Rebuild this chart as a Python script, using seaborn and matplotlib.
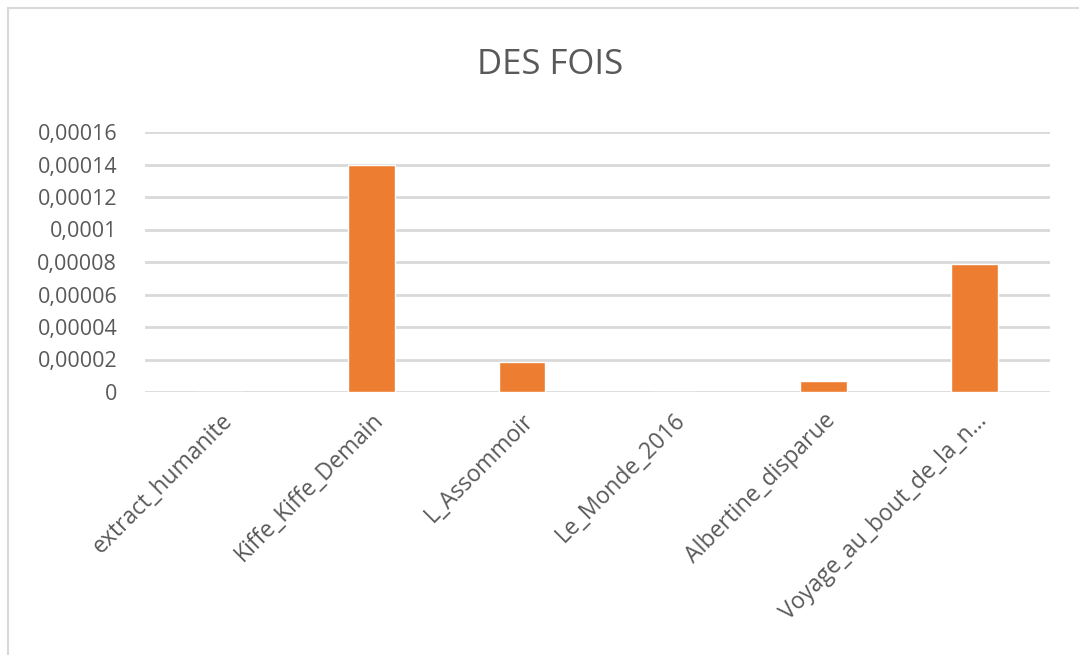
import pandas as pd
import numpy as np
import matplotlib
matplotlib.use("Agg")
import matplotlib.pyplot as plt
import seaborn as sns
from matplotlib.patches import Rectangle

# données
livres = ["extract_humanite", "Kiffe_Kiffe_Demain", "L_Assommoir",
          "Le_Monde_2016", "Albertine_disparue", "Voyage_au_bout_de_la_n..."]
frequences = [0.0, 0.00014, 0.0000185, 0.0, 0.0000068, 0.0000788]
yticks = [0, 0.00002, 0.00004, 0.00006, 0.00008, 0.0001, 0.00012, 0.00014, 0.00016]
ytick_labels = ["0", "0,00002", "0,00004", "0,00006", "0,00008", "0,0001",
                "0,00012", "0,00014", "0,00016"]

df = pd.DataFrame({"livre": livres, "freq": frequences})

sns.set_style("white")
plt.rcParams["font.family"] = ["Open Sans", "DejaVu Sans"]
gris = "#595959"

fig = plt.figure(figsize=(10.79, 6.55), dpi=100)
ax = fig.add_axes([145 / 1079, 1 - 392 / 655, 905 / 1079, 260 / 655])

sns.barplot(data=df, x="livre", y="freq", color="#ED7D31", width=0.31,
            saturation=1, ax=ax, zorder=3)

ax.set_ylim(0, 0.00016)
ax.set_yticks(yticks)
ax.set_yticklabels(ytick_labels, fontsize=15.5, color=gris)
ax.set_xticklabels(livres, rotation=45, ha="right", rotation_mode="anchor",
                   fontsize=16.5, color=gris)
ax.tick_params(axis="y", length=0, pad=20)
ax.tick_params(axis="x", length=0, pad=12)
ax.grid(axis="y", color="#d9d9d9", linewidth=2, zorder=0)
ax.set_axisbelow(True)
for s in ax.spines.values():
    s.set_visible(False)
ax.set_xlabel("")
ax.set_ylabel("")

fig.text(550 / 1079, 1 - 65 / 655, "DES FOIS", ha="center", va="center",
         fontsize=25, color=gris)

# cadre du graphique
fig.patches.append(Rectangle((8 / 1079, -0.1), 1.1, 1 - 8 / 655 + 0.1,
                             transform=fig.transFigure, fill=False,
                             edgecolor="#d9d9d9", linewidth=1.5))

fig.savefig("out.png", dpi=100)
